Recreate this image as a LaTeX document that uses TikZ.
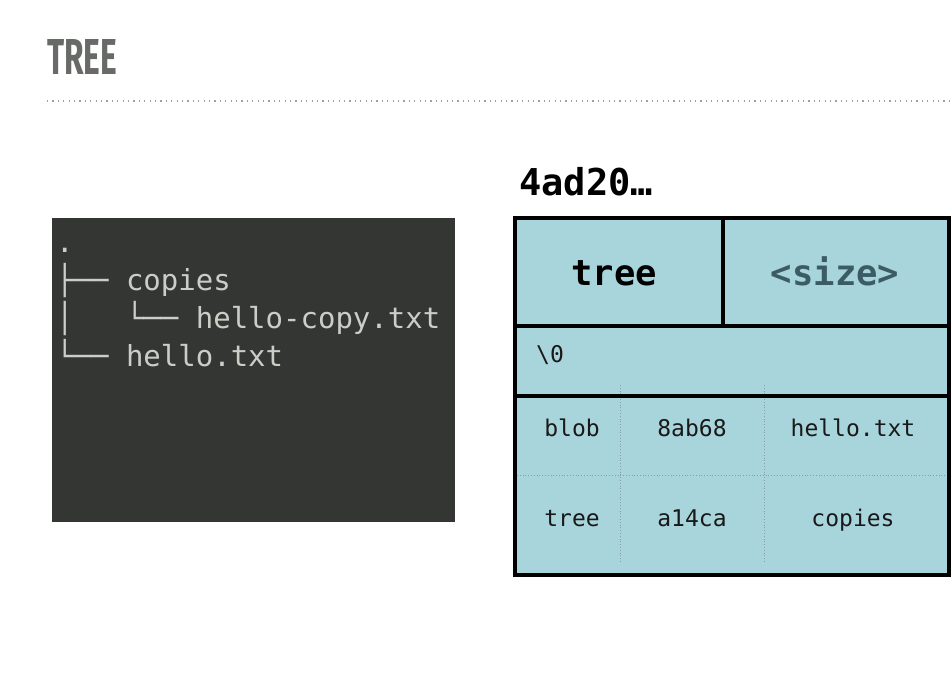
\documentclass[tikz,border=0pt]{standalone}
\usepackage{fontspec}
\usepackage{graphicx}
\setmainfont{Fira Sans}
\newfontfamily\termfont{DejaVu Sans Mono}
\definecolor{titlegray}{RGB}{104,106,103}
\definecolor{dotgray}{RGB}{160,160,160}
\definecolor{termbg}{RGB}{51,54,50}
\definecolor{termfg}{RGB}{205,205,200}
\definecolor{cellfill}{RGB}{168,212,219}
\definecolor{gridgray}{RGB}{130,160,165}
\definecolor{sizecol}{RGB}{60,92,100}
\begin{document}
\begin{tikzpicture}[x=1bp,y=-1bp,
  term/.style={anchor=base west,inner sep=0pt,text=termfg,font=\termfont\fontsize{29bp}{38bp}\selectfont},
  celltext/.style={anchor=base,inner sep=0pt,text=black!90,font=\termfont\fontsize{23bp}{28bp}\selectfont},
  headtext/.style={anchor=base,inner sep=0pt,font=\termfont\bfseries\fontsize{35.5bp}{40bp}\selectfont},
  border/.style={line width=4bp,draw=black},
  grid/.style={draw=gridgray,line width=0.8bp,dotted}]
\useasboundingbox (0,0) rectangle (952,686);
\fill[white] (0,0) rectangle (952,686);
% title
\node[anchor=south west,inner sep=0pt,text=titlegray] (title) at (47,75) {\resizebox{70bp}{35bp}{\bfseries TREE}};
\coordinate (ruleL) at (47,101);
\coordinate (ruleR) at (952,101);
\draw[dotgray,line width=1.5bp,dash pattern=on 1.2bp off 4.2bp] (ruleL) -- (ruleR);
% terminal
\fill[termbg] (52,218) rectangle (455,522);
\node[term] (l0) at (56,252) {.};
\node[term] (l1) at (56,290) {├──\ copies};
\node[term] (l2) at (56,328) {│\ \ \ └──\ hello-copy.txt};
\node[term] (l3) at (56,366) {└──\ hello.txt};
% hash label
\node[anchor=base west,inner sep=0pt,font=\termfont\bfseries\fontsize{37bp}{40bp}\selectfont] (hash) at (519,195) {4ad20…};
% table
\fill[cellfill] (515,218) rectangle (949,575);
\draw[grid] (620,385) -- (620,563);
\draw[grid] (764,385) -- (764,563);
\draw[grid] (517,475) -- (945,475);
\draw[border] (515,218) rectangle (949,575);
\draw[border] (515,326) -- (949,326);
\draw[border] (515,396) -- (949,396);
\draw[border] (723,218) -- (723,326);
\node[headtext] (htree) at (614,285) {tree};
\node[headtext,text=sizecol] (hsize) at (835,285) {<size>};
\node[celltext,anchor=base west] (nul) at (536,362) {\textbackslash 0};
\node[celltext] (c11) at (572,436) {blob};
\node[celltext] (c12) at (692,436) {8ab68};
\node[celltext] (c13) at (853,436) {hello.txt};
\node[celltext] (c21) at (572,526) {tree};
\node[celltext] (c22) at (692,526) {a14ca};
\node[celltext] (c23) at (853,526) {copies};
\end{tikzpicture}
\end{document}
